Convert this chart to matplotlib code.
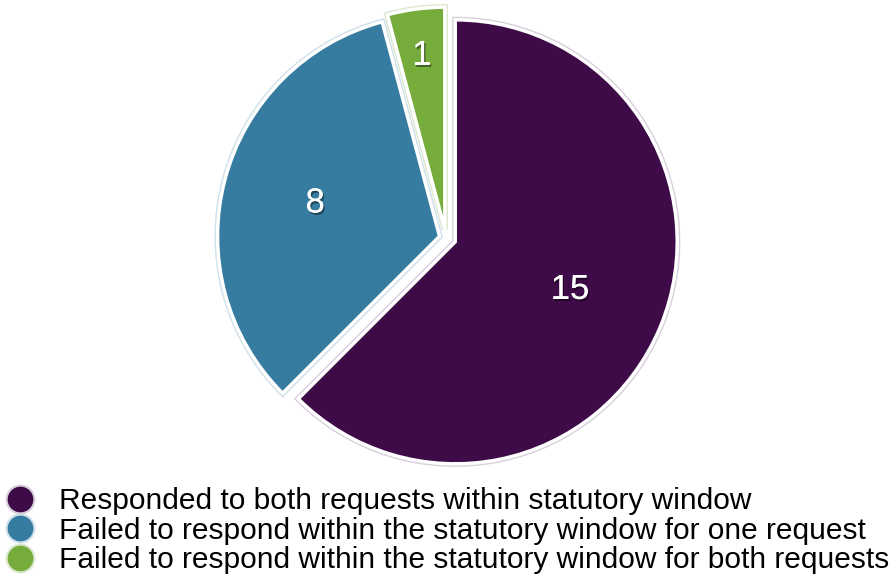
import numpy as np
import matplotlib.pyplot as plt
import matplotlib.patheffects as pe
from matplotlib.lines import Line2D

# data
labels = ["Responded to both requests within statutory window",
          "Failed to respond within the statutory window for one request",
          "Failed to respond within the statutory window for both requests"]
counts = [15, 8, 1]
colors = ["#3e0a47", "#357ca0", "#76ac3c"]
rings = ["#d9cfdc", "#cfe0ea", "#dde9cf"]

plt.rcParams['font.family'] = ['Liberation Sans', 'DejaVu Sans']

W, H = 891, 577
cx, cy, R = 446, 238, 222
fig = plt.figure(figsize=(W / 100, H / 100), dpi=100)
ax = fig.add_axes([0, 0, 1, 1])

explode = [0.045, 0.03, 0.04]
wedges, _ = ax.pie(counts, colors=colors, startangle=90, counterclock=False,
                   explode=explode, radius=1.0,
                   wedgeprops=dict(edgecolor='white', linewidth=2.5))
ax.set_aspect('auto')
ax.set_xlim(-cx / R, (W - cx) / R)
ax.set_ylim(-(H - cy) / R, cy / R)
ax.axis('off')

# faint coloured outline around the white border
for w, rc in zip(wedges, rings):
    w.set_path_effects([pe.Stroke(linewidth=4.5, foreground=rc), pe.Normal()])

# slice labels
lab_dist = [0.56, 0.58, 0.79]
for w, n, d, e in zip(wedges, counts, lab_dist, explode):
    ang = np.deg2rad((w.theta1 + w.theta2) / 2)
    r = d + e
    t = ax.text(r * np.cos(ang), r * np.sin(ang), str(n), color='white',
                fontsize=25, ha='center', va='center')
    t.set_path_effects([pe.withSimplePatchShadow(offset=(1, -1.5), shadow_rgbFace='black', alpha=0.45), pe.Normal()])

handles = [Line2D([], [], linestyle='none', marker='o', markersize=20,
                  markerfacecolor=c, markeredgecolor=rc, markeredgewidth=1.5)
           for c, rc in zip(colors, rings)]
fig.legend(handles, labels, loc='lower left', bbox_to_anchor=(-0.014, -0.026),
           frameon=False, fontsize=21.5, handlelength=1.0, handletextpad=0.78,
           labelspacing=0.045, borderaxespad=0.2)

fig.savefig('out.png', dpi=100)
